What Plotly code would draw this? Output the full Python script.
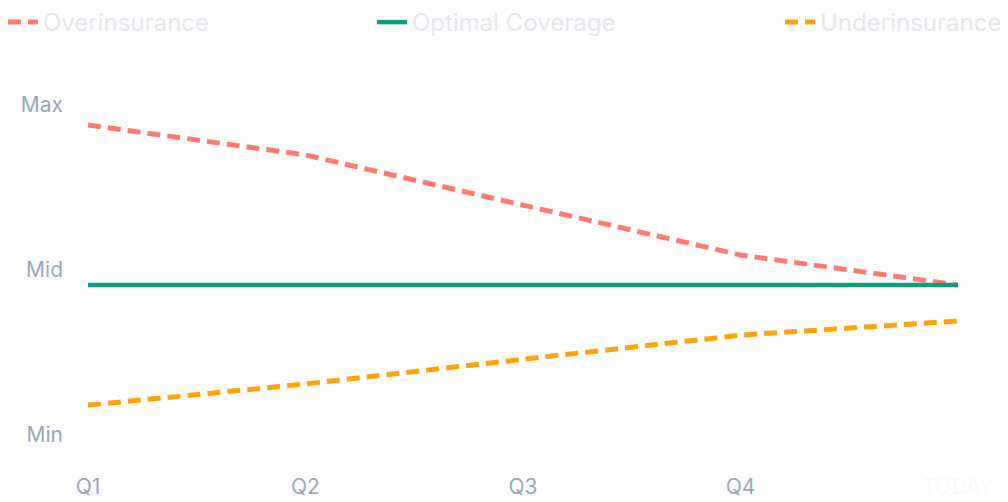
import plotly.graph_objects as go

# ============================================================
# Data
# ============================================================
periods = ["Q1", "Q2", "Q3", "Q4", "TODAY"]
over_values = [98.5, 89.4, 74.2, 59.1, 50.0]
optimal_values = [50.0, 50.0, 50.0, 50.0, 50.0]
under_values = [13.6, 20.0, 27.5, 34.8, 39.1]

y_tickvals = [0, 50, 100]
y_ticktext = ["Min", "Mid", "Max"]

# ============================================================
# Style
# ============================================================
RED = "#ff7b72"
GREEN = "#0a9f7f"
ORANGE = "#ffa20c"
TICK_COLOR = "#9aa6be"
LEGEND_COLOR = "#e6e8ee"
FONT = "Inter"

# last label is drawn almost white in the original
x_ticktext = periods[:-1] + ['<span style="color:#fafafb">' + periods[-1] + "</span>"]

fig = go.Figure()
fig.add_trace(go.Scatter(
    x=periods, y=over_values, mode="lines", name="Overinsurance",
    line=dict(color=RED, width=5, dash="13px,7px"),
    legend="legend",
))
fig.add_trace(go.Scatter(
    x=periods, y=optimal_values, mode="lines", name="Optimal Coverage",
    line=dict(color=GREEN, width=4.5),
    legend="legend2",
))
fig.add_trace(go.Scatter(
    x=periods, y=under_values, mode="lines", name="Underinsurance",
    line=dict(color=ORANGE, width=5, dash="13px,7px"),
    legend="legend3",
))

legend_common = dict(
    orientation="h", xref="container", yref="container",
    y=1.0, yanchor="top", xanchor="left",
    font=dict(family=FONT, size=24, color=LEGEND_COLOR),
    bgcolor="rgba(0,0,0,0)", borderwidth=0,
)

fig.update_layout(
    width=1008, height=502,
    margin=dict(l=88, r=50, t=120, b=52),
    paper_bgcolor="white", plot_bgcolor="white",
    font=dict(family=FONT, size=21, color=TICK_COLOR),
    showlegend=True,
    legend=dict(legend_common, x=3 / 1008),
    legend2=dict(legend_common, x=372 / 1008),
    legend3=dict(legend_common, x=780 / 1008),
    xaxis=dict(
        type="category", range=[0, 4], automargin=False,
        tickvals=periods, ticktext=x_ticktext,
        showgrid=False, zeroline=False, showline=False, ticks="",
        ticklabelstandoff=22,
        tickfont=dict(family=FONT, size=21, color=TICK_COLOR),
    ),
    yaxis=dict(
        range=[0, 100], automargin=False,
        tickvals=y_tickvals, ticktext=y_ticktext,
        showgrid=False, zeroline=False, showline=False, ticks="",
        ticklabelstandoff=24, ticklabelshift=-15,
        tickfont=dict(family=FONT, size=21, color=TICK_COLOR),
    ),
)

# drop the default 8px body margin so the figure sits flush in the window
fig.write_html(
    "out.html",
    config={"displayModeBar": False},
    post_script="document.body.style.margin='0';",
)
